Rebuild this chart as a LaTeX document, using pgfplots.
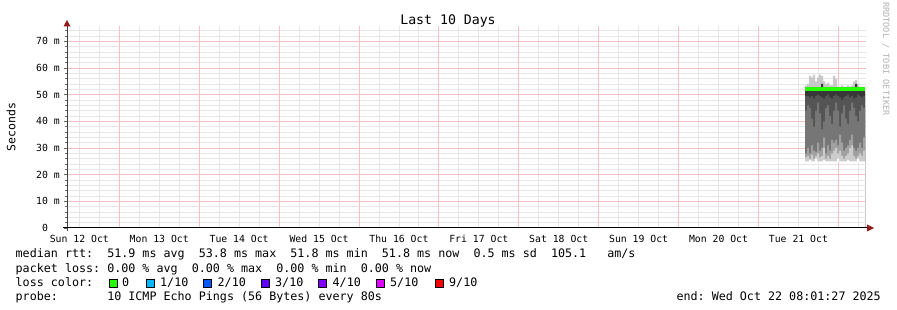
\documentclass[border=0pt]{standalone}
\usepackage{fontspec}
\setmainfont{DejaVu Sans Mono}
\usepackage{pgfplots}
\pgfplotsset{compat=1.18}
\usepackage{pgfplotstable}
\definecolor{mgrid}{RGB}{244,192,192}
\definecolor{ngrid}{RGB}{230,230,230}
\definecolor{arrowred}{RGB}{150,25,25}
\definecolor{medgreen}{RGB}{38,255,0}
\definecolor{lcA}{RGB}{38,255,0}
\definecolor{lcB}{RGB}{0,184,255}
\definecolor{lcC}{RGB}{0,89,255}
\definecolor{lcD}{RGB}{94,0,255}
\definecolor{lcE}{RGB}{126,0,255}
\definecolor{lcF}{RGB}{221,0,255}
\definecolor{lcG}{RGB}{255,0,0}
\definecolor{sm1}{RGB}{204,204,204}
\definecolor{sm2}{RGB}{160,160,160}
\definecolor{sm3}{RGB}{118,118,118}
\definecolor{sm4}{RGB}{84,84,84}
\definecolor{sm5}{RGB}{55,55,55}
\definecolor{smup}{RGB}{200,200,200}
\tikzset{ngl/.style={draw=ngrid, line width=0.8bp},
         mgl/.style={draw=mgrid, line width=0.8bp}}

\pgfplotstableread{
t     p1   p2   p3   p4   p5   p6   p10  med
230.0 25   26.5 28   44   49.5 51.5 53.5 52.1
230.6 25   27   30   46   49.5 51.5 54   52.1
231.2 25.5 26   28   45   49   51.5 57   52.1
231.8 25   27.5 31   41   49.5 51.5 56.5 52.1
232.4 25   26   29   38   48.5 51.5 57.5 52.1
233.0 26   27   28.5 44   49.5 51.5 55   52.1
233.6 25   28   32   47   50   51.5 56.5 52.1
234.2 25   26.5 29   43   49.5 51.5 57.5 52.1
234.8 25   27   30   37   49   54   57   52.1
235.4 25.5 30   34   40   48.5 51.5 55   52.1
236.0 25   26   28   45   49.5 51.5 54   52.1
236.6 25   27   31   46   50   51.5 54.5 52.1
237.2 25   26   29   42   49   51.5 53.5 52.1
237.8 25   28   33   39   48.5 51.5 53.5 52.1
238.4 25   29   32   44   49.5 51.5 57   52.1
239.0 25   30   33   47   50   51.5 56   52.1
239.6 26   28   31   44   49.5 51.5 53   52.1
240.2 25   29   35   38   49   51.5 53   52.1
240.8 25   27   32   43   48   51.5 53.5 52.1
241.4 25   26   29   46   49   51.5 53   52.1
242.0 25   27   30   41   49.5 51.5 53   52.1
242.6 25.5 28   31   39   50   51.5 53.5 52.1
243.2 25   30   33   44   49   51.5 53   52.1
243.8 25   31   35   47   49.5 51.5 53.5 52.1
244.4 25   27   30   45   48.5 51.5 55   52.1
245.0 25   26   29   42   49   54   55.5 52.1
245.6 26   27   30   40   50   51.5 54   52.1
246.2 25   28   32   44   49.5 51.5 53   52.1
246.8 25   27   30   46   49   51.5 53   52.1
247.4 25   29   34   45   49.5 51.5 53   52.1
248.0 25   29   34   45   49.5 51.5 53   52.1
}\smoke

\begin{document}
\frenchspacing
\begin{tikzpicture}
\useasboundingbox (0,0) rectangle (897bp,310bp);
\begin{axis}[
  at={(67bp,82bp)}, anchor=south west,
  scale only axis, width=799bp, height=201.9bp,
  xmin=8.3, xmax=248.3, ymin=0, ymax=75.7,
  axis line style={draw=none},
  xtick={12,36,...,228},
  xticklabels={Sun 12 Oct,Mon 13 Oct,Tue 14 Oct,Wed 15 Oct,Thu 16 Oct,Fri 17 Oct,Sat 18 Oct,Sun 19 Oct,Mon 20 Oct,Tue 21 Oct},
  xtick style={draw=none},
  ytick={0,10,...,70},
  yticklabels={0\phantom{~m},10~m,20~m,30~m,40~m,50~m,60~m,70~m},
  minor ytick={2,4,6,8,12,14,16,18,22,24,26,28,32,34,36,38,42,44,46,48,52,54,56,58,62,64,66,68,72,74},
  ytick pos=left,
  ytick style={line width=0.8bp, black!60},
  major tick length=3bp, minor tick length=2bp,
  tick align=outside,
  xticklabel style={font=\fontsize{9.8bp}{10bp}\selectfont, anchor=base, yshift=-12bp, inner sep=0pt},
  yticklabel style={font=\fontsize{9.8bp}{10bp}\selectfont, anchor=east, inner sep=0pt, xshift=-4bp},
  clip=false,
]
% grid
\pgfplotsinvokeforeach{12,18,30,36,42,54,60,66,78,84,90,102,108,114,126,132,138,150,156,162,174,180,186,198,204,210,222,228,234,246}{
  \draw[ngl] (axis cs:#1,0) -- (axis cs:#1,75.7);
}
\pgfplotsinvokeforeach{2,4,6,8,12,14,16,18,22,24,26,28,32,34,36,38,42,44,46,48,52,54,56,58,62,64,66,68,72,74}{
  \draw[ngl] (axis cs:8.3,#1) -- (axis cs:248.3,#1);
}
\pgfplotsinvokeforeach{24,48,72,96,120,144,168,192,216,240}{
  \draw[mgl] (axis cs:#1,0) -- (axis cs:#1,75.7);
}
\pgfplotsinvokeforeach{10,20,30,40,50,60,70}{
  \draw[mgl] (axis cs:8.3,#1) -- (axis cs:248.3,#1);
}
% smoke
\addplot[draw=none, fill=smup, const plot] table[x=t,y=p10]{\smoke} \closedcycle;
\addplot[draw=none, fill=sm5, const plot] table[x=t,y=p6]{\smoke} \closedcycle;
\addplot[draw=none, fill=sm4, const plot] table[x=t,y=p5]{\smoke} \closedcycle;
\addplot[draw=none, fill=sm3, const plot] table[x=t,y=p4]{\smoke} \closedcycle;
\addplot[draw=none, fill=sm2, const plot] table[x=t,y=p3]{\smoke} \closedcycle;
\addplot[draw=none, fill=sm1, const plot] table[x=t,y=p2]{\smoke} \closedcycle;
\addplot[draw=none, fill=white, const plot] table[x=t,y=p1]{\smoke} \closedcycle;
% grid again below the smoke
\pgfplotsinvokeforeach{2,4,6,8,12,14,16,18,22,24}{
  \draw[ngl] (axis cs:229.9,#1) -- (axis cs:248.3,#1);
}
\pgfplotsinvokeforeach{234,246}{
  \draw[ngl] (axis cs:#1,0) -- (axis cs:#1,24.9);
}
\pgfplotsinvokeforeach{10,20}{
  \draw[mgl] (axis cs:229.9,#1) -- (axis cs:248.3,#1);
}
\draw[mgl] (axis cs:240,0) -- (axis cs:240,24.9);
\addplot[const plot, medgreen, line width=3.5bp] table[x=t,y=med]{\smoke};
\end{axis}
% axis lines and arrows
\draw[black!75, line width=1bp] (67bp,79bp) -- (67bp,284bp);
\draw[black, line width=1bp] (63bp,82bp) -- (867bp,82bp);
\fill[arrowred] (874bp,82bp) -- (867bp,85.5bp) -- (867bp,78.5bp) -- cycle;
\fill[arrowred] (67bp,290bp) -- (63.5bp,283.5bp) -- (70.5bp,283.5bp) -- cycle;
% title
\node[anchor=base, inner sep=0pt, font=\fontsize{13.2bp}{14bp}\selectfont] at (448bp,285.5bp) {Last 10 Days};
% y label
\node[rotate=90, inner sep=0pt, font=\fontsize{11.5bp}{12bp}\selectfont] at (11bp,183bp) {Seconds};
% watermark
\node[rotate=-90, inner sep=0pt, text=black!30, font=\fontsize{8.6bp}{9bp}\selectfont] at (886bp,251bp) {RRDTOOL / TOBI OETIKER};
% legend
\begin{scope}[every node/.style={anchor=base west, inner sep=0pt, font=\fontsize{11.7bp}{14bp}\selectfont}]
\node at (15.5bp,52bp) {median rtt:~~51.9 ms avg~~53.8 ms max~~51.8 ms min~~51.8 ms now~~0.5 ms sd~~105.1~~~am/s};
\node at (15.5bp,38bp) {packet loss: 0.00 \% avg~~0.00 \% max~~0.00 \% min~~0.00 \% now};
\node at (15.5bp,24bp) {loss color:};
\node at (15.5bp,10bp) {probe:~~~~~~~10 ICMP Echo Pings (56 Bytes) every 80s};
\node[anchor=base east] at (881bp,10bp) {end: Wed Oct 22 08:01:27 2025};
\draw[black, line width=0.8bp, fill=lcA] (109bp,23bp) rectangle (117bp,31bp);
\node at (122bp,24bp) {0};
\draw[black, line width=0.8bp, fill=lcB] (146bp,23bp) rectangle (154bp,31bp);
\node at (160bp,24bp) {1/10};
\draw[black, line width=0.8bp, fill=lcC] (203.5bp,23bp) rectangle (211.5bp,31bp);
\node at (217.5bp,24bp) {2/10};
\draw[black, line width=0.8bp, fill=lcD] (261bp,23bp) rectangle (269bp,31bp);
\node at (275bp,24bp) {3/10};
\draw[black, line width=0.8bp, fill=lcE] (318.5bp,23bp) rectangle (326.5bp,31bp);
\node at (332.5bp,24bp) {4/10};
\draw[black, line width=0.8bp, fill=lcF] (376bp,23bp) rectangle (384bp,31bp);
\node at (390bp,24bp) {5/10};
\draw[black, line width=0.8bp, fill=lcG] (435.5bp,23bp) rectangle (443.5bp,31bp);
\node at (449bp,24bp) {9/10};
\end{scope}
\end{tikzpicture}
\end{document}
